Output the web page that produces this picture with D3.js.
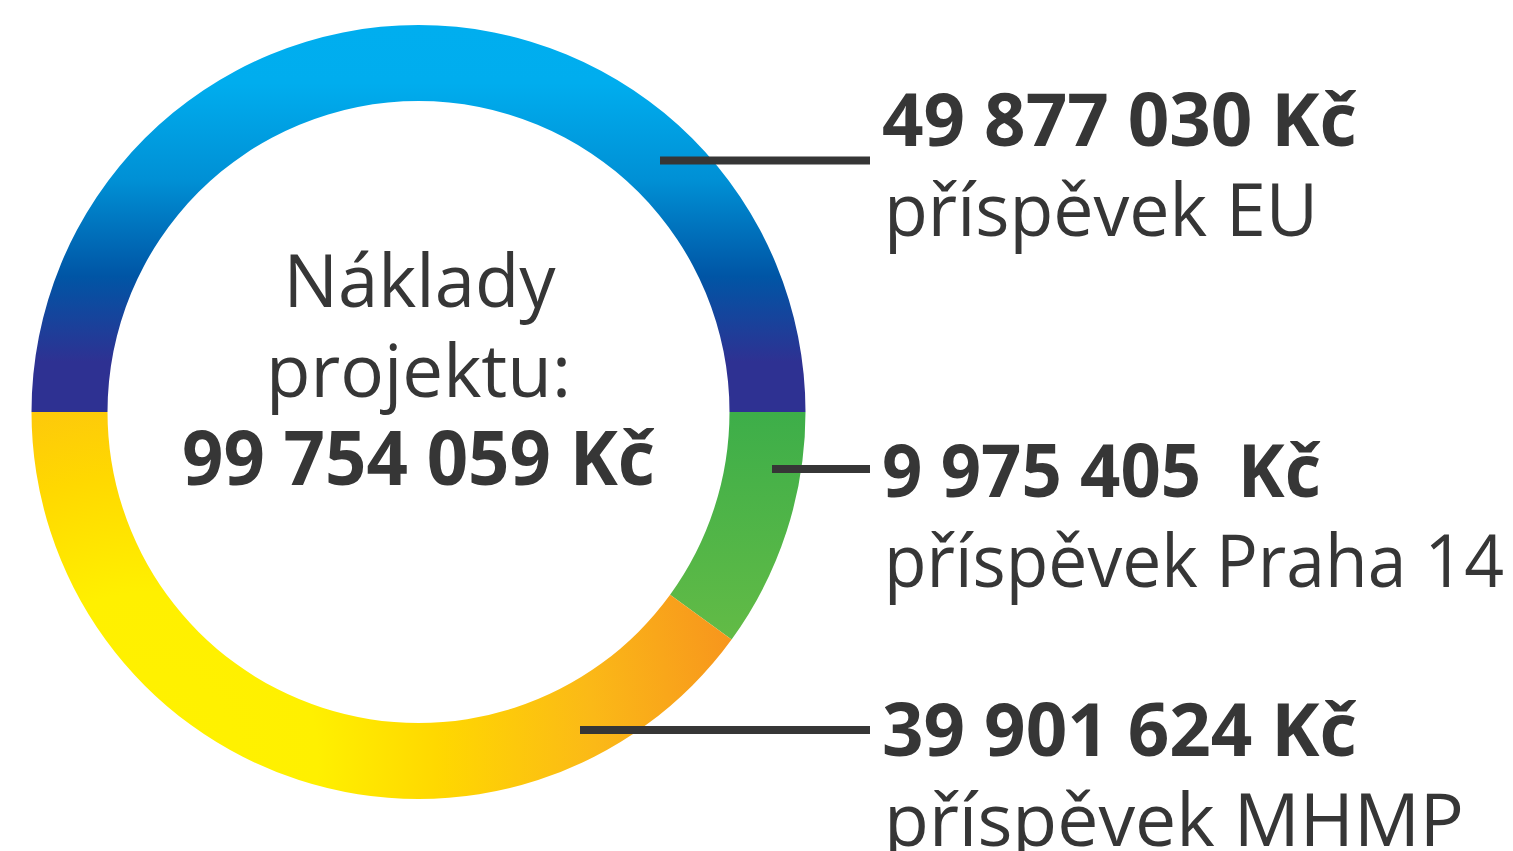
<!DOCTYPE html>
<html>
<head>
<meta charset="utf-8">
<script src="https://cdn.jsdelivr.net/npm/d3@7"></script>
<style>
  html, body { margin: 0; padding: 0; background: #ffffff; overflow: hidden; }
  svg { display: block; }
  text { font-family: "Open Sans", "Noto Sans", sans-serif; fill: #363636; white-space: pre; }
</style>
</head>
<body>
<svg id="chart" width="1513" height="851"></svg>
<script>
// ---- data ----
const categories = ["příspěvek EU", "příspěvek Praha 14", "příspěvek MHMP"];
const values = [49877030, 9975405, 39901624];
const valueLabels = ["49 877 030 Kč", "9 975 405  Kč", "39 901 624 Kč"];
const centerTitle = ["Náklady", "projektu:"];
const totalLabel = "99 754 059 Kč";

// ---- layout ----
const W = 1513, H = 851;
const cx = 418.5, cy = 412, R = 387, r = 311;
const svg = d3.select("#chart");
const defs = svg.append("defs");

// gradients (coordinates relative to the ring centre, where the slices are drawn)
const gEU = defs.append("linearGradient").attr("id", "gEU")
  .attr("gradientUnits", "userSpaceOnUse").attr("x1", 0).attr("y1", -R).attr("x2", 0).attr("y2", 0);
[[0, "#00AEEF"], [0.15, "#00ADEE"], [0.4, "#0090D5"], [0.65, "#0055A5"], [0.87, "#2E3192"], [1, "#2E3192"]]
  .forEach(s => gEU.append("stop").attr("offset", s[0]).attr("stop-color", s[1]));

const gPR = defs.append("linearGradient").attr("id", "gPR")
  .attr("gradientUnits", "userSpaceOnUse").attr("x1", 0).attr("y1", 0).attr("x2", 0).attr("y2", 225);
[[0, "#3DAE49"], [1, "#62BB46"]]
  .forEach(s => gPR.append("stop").attr("offset", s[0]).attr("stop-color", s[1]));

const gMH = defs.append("radialGradient").attr("id", "gMH")
  .attr("gradientUnits", "userSpaceOnUse").attr("cx", 150 - cx).attr("cy", 760 - cy).attr("r", 600);
[[0, "#FFF200"], [0.28, "#FFF000"], [0.48, "#FFD800"], [0.74, "#FBB917"], [1, "#F7941D"]]
  .forEach(s => gMH.append("stop").attr("offset", s[0]).attr("stop-color", s[1]));

const fills = ["url(#gEU)", "url(#gPR)", "url(#gMH)"];

const pie = d3.pie().sort(null).value(d => d)
  .startAngle(-Math.PI / 2).endAngle(3 * Math.PI / 2);
const arc = d3.arc().innerRadius(r).outerRadius(R);

const g = svg.append("g").attr("transform", `translate(${cx},${cy})`);
g.selectAll("path.slice").data(pie(values)).join("path")
  .attr("class", "slice")
  .attr("d", arc)
  .attr("fill", (d, i) => fills[i]);

// center text
const centerG = svg.append("g");
centerG.append("text").attr("x", 419.5).attr("y", 307).attr("text-anchor", "middle")
  .attr("font-size", 73).attr("textLength", 272).attr("lengthAdjust", "spacingAndGlyphs")
  .text(centerTitle[0]);
centerG.append("text").attr("x", 418.5).attr("y", 397).attr("text-anchor", "middle")
  .attr("font-size", 73).attr("textLength", 305).attr("lengthAdjust", "spacingAndGlyphs")
  .text(centerTitle[1]);
centerG.append("text").attr("x", 418.5).attr("y", 485).attr("text-anchor", "middle")
  .attr("font-size", 75).attr("font-weight", 700).attr("textLength", 473).attr("lengthAdjust", "spacingAndGlyphs")
  .text(totalLabel);

// leader lines and labels
const lineY = [160.5, 469, 730];
const lineX0 = [660, 772, 580];
const lineX1 = 870;
const labelX = 882;
const boldBase = [146, 497, 756];
const regBase = [236, 587, 846];
const boldLen = [475, 439, 475];
const regLen = [434, 620, 580];

const lg = svg.append("g");
lg.selectAll("line").data(values).join("line")
  .attr("x1", (d, i) => lineX0[i]).attr("x2", lineX1)
  .attr("y1", (d, i) => lineY[i]).attr("y2", (d, i) => lineY[i])
  .attr("stroke", "#363636").attr("stroke-width", 8);

lg.selectAll("text.val").data(valueLabels).join("text")
  .attr("class", "val")
  .attr("x", labelX).attr("y", (d, i) => boldBase[i])
  .attr("font-size", 74).attr("font-weight", 700)
  .attr("textLength", (d, i) => boldLen[i]).attr("lengthAdjust", "spacingAndGlyphs")
  .text(d => d);

lg.selectAll("text.cat").data(categories).join("text")
  .attr("class", "cat")
  .attr("x", labelX + 2).attr("y", (d, i) => regBase[i])
  .attr("font-size", 73)
  .attr("textLength", (d, i) => regLen[i]).attr("lengthAdjust", "spacingAndGlyphs")
  .text(d => d);
</script>
</body>
</html>
